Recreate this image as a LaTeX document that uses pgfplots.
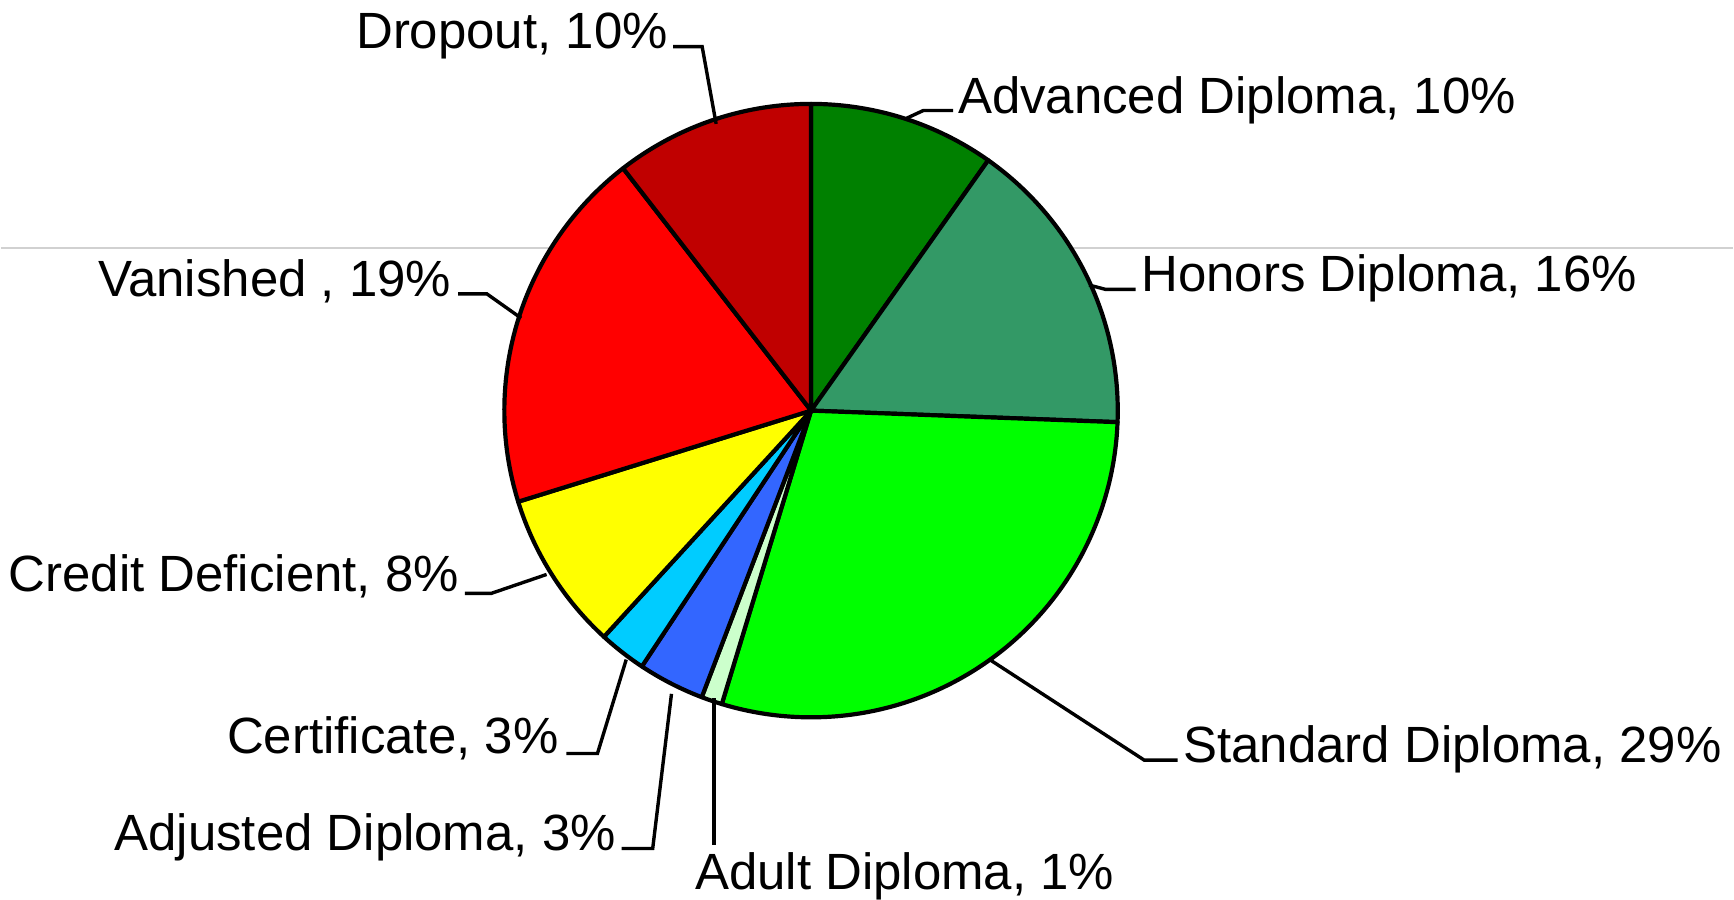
\documentclass[border=0pt]{standalone}
\usepackage{pgfplots}
\pgfplotsset{compat=1.18}
\usepackage{fontspec}
\setmainfont{Liberation Sans}
\definecolor{cAdv}{HTML}{008000}
\definecolor{cHon}{HTML}{339966}
\definecolor{cStd}{HTML}{00FF00}
\definecolor{cAdu}{HTML}{CCFFCC}
\definecolor{cAdj}{HTML}{3366FF}
\definecolor{cCer}{HTML}{00CCFF}
\definecolor{cCre}{HTML}{FFFF00}
\definecolor{cVan}{HTML}{FF0000}
\definecolor{cDro}{HTML}{C00000}
% slice: #1 cumulative start (%), #2 share (%), #3 colour
\newcommand{\slice}[3]{%
  \draw[fill=#3, line width=2.1pt, line join=round] (axis cs:811,489) -- ++({90-3.6*(#1)}:153.5pt)
    arc[start angle={90-3.6*(#1)}, end angle={90-3.6*(#1+#2)}, radius=153.5pt] -- cycle;}
\tikzset{lab/.style={inner sep=0pt, font=\fontsize{25.5pt}{30pt}\selectfont},
         lead/.style={line width=1.7pt, line join=miter}}
\begin{document}
\begin{tikzpicture}
\begin{axis}[width=867pt, height=450pt, scale only axis,
  xmin=0, xmax=1734, ymin=0, ymax=900, hide axis, clip=false]
\path (axis cs:0,0) rectangle (axis cs:1734,900);
\draw[black!18, line width=0.8pt] (axis cs:0,652) -- (axis cs:1734,652);
% start, share
\slice{0}{9.8}{cAdv}       % Advanced Diploma
\slice{9.8}{15.8}{cHon}    % Honors Diploma
\slice{25.6}{29.1}{cStd}   % Standard Diploma
\slice{54.7}{1.1}{cAdu}    % Adult Diploma
\slice{55.8}{3.5}{cAdj}    % Adjusted Diploma
\slice{59.3}{2.5}{cCer}    % Certificate
\slice{61.8}{8.4}{cCre}    % Credit Deficient
\slice{70.2}{19.3}{cVan}   % Vanished
\slice{89.5}{10.5}{cDro}   % Dropout
% leader lines
\draw[lead] (axis cs:716,776) -- (axis cs:702,853.3) -- (axis cs:673,853.3);
\draw[lead] (axis cs:906.8,781.7) -- (axis cs:923.4,789.4) -- (axis cs:953.3,789.4);
\draw[lead] (axis cs:1089.3,614.7) -- (axis cs:1105.9,610.3) -- (axis cs:1135.8,610.3);
\draw[lead] (axis cs:989.8,239.8) -- (axis cs:1144.6,139.1) -- (axis cs:1177.8,139.1);
\draw[lead] (axis cs:714,201) -- (axis cs:714,54);
\draw[lead] (axis cs:671.3,205.5) -- (axis cs:652.5,50.7) -- (axis cs:621.5,50.7);
\draw[lead] (axis cs:626,239.8) -- (axis cs:597.2,145.8) -- (axis cs:566.2,145.8);
\draw[lead] (axis cs:546.3,325) -- (axis cs:491,306.1) -- (axis cs:464.5,306.1);
\draw[lead] (axis cs:520.9,581.5) -- (axis cs:486.6,605.8) -- (axis cs:457.8,605.8);
% labels
\node[lab, anchor=base east] at (axis cs:668,851.5) {Dropout, 10\%};
\node[lab, anchor=base west] at (axis cs:957.7,786.5) {Advanced Diploma, 10\%};
\node[lab, anchor=base west] at (axis cs:1141.3,608) {Honors Diploma, 16\%};
\node[lab, anchor=base west] at (axis cs:1183.3,137) {Standard Diploma, 29\%};
\node[lab, anchor=base west] at (axis cs:694.5,10) {Adult Diploma, 1\%};
\node[lab, anchor=base east] at (axis cs:616,48.5) {Adjusted Diploma, 3\%};
\node[lab, anchor=base east] at (axis cs:558.5,146) {Certificate, 3\%};
\node[lab, anchor=base east] at (axis cs:459,308.3) {Credit Deficient, 8\%};
\node[lab, anchor=base east] at (axis cs:451.2,603.6) {Vanished , 19\%};
\end{axis}
\end{tikzpicture}
\end{document}
